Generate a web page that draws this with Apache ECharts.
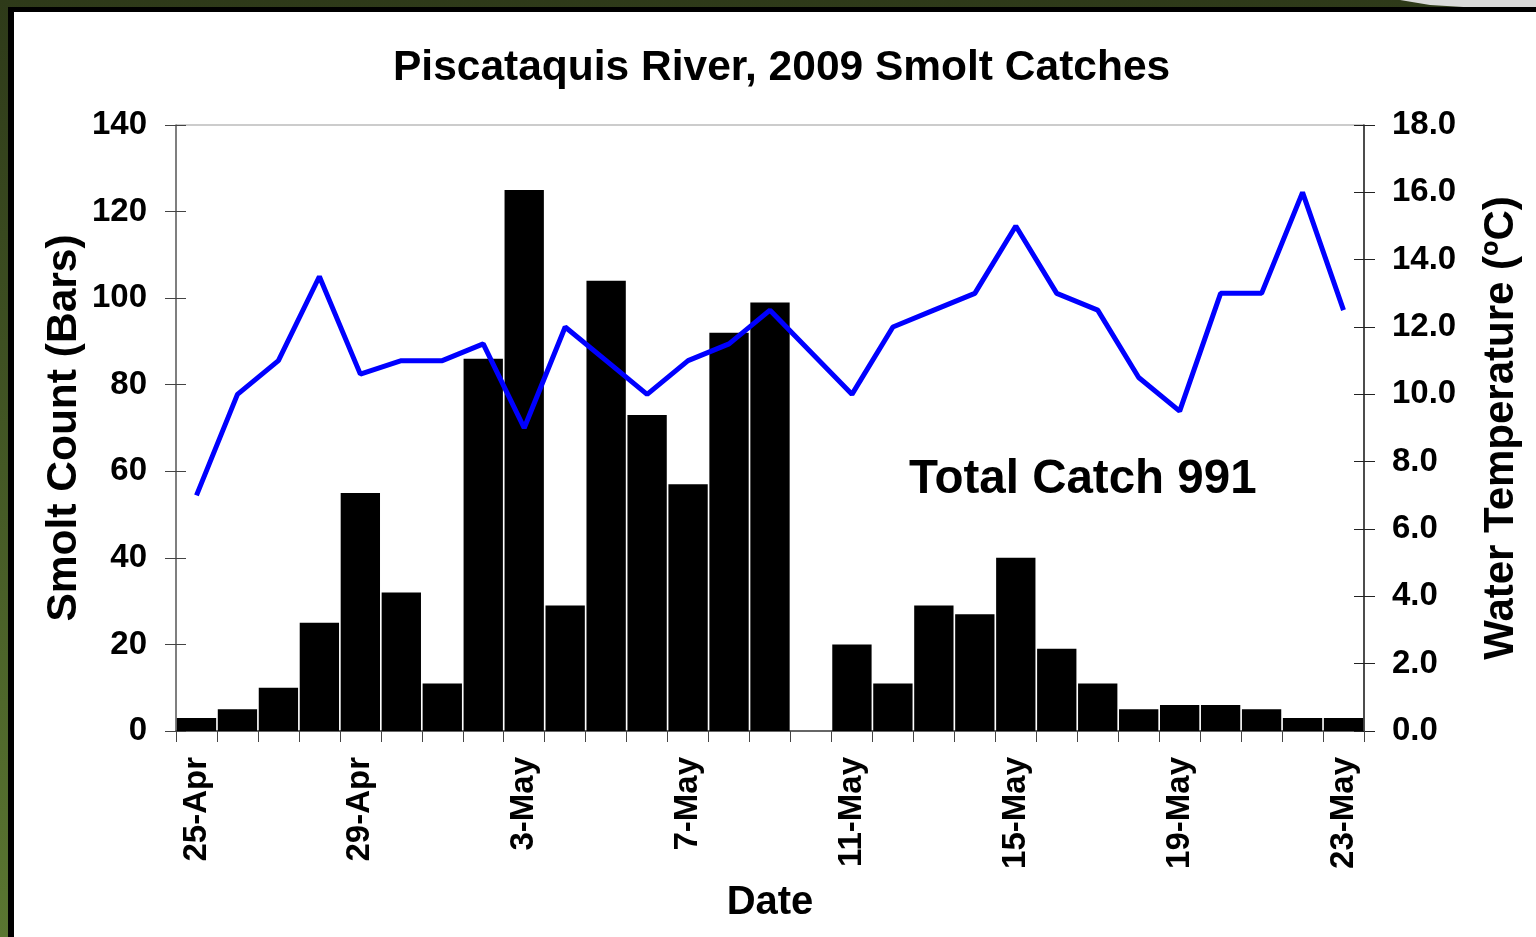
<!DOCTYPE html>
<html>
<head>
<meta charset="utf-8">
<title>Piscataquis River, 2009 Smolt Catches</title>
<script src="https://cdn.jsdelivr.net/npm/echarts@6/dist/echarts.min.js"></script>
<style>
    html, body { margin: 0; padding: 0; background: #2e3a19; }
    #main { width: 1536px; height: 937px; }
</style>
</head>
<body>
<div id="main"></div>
<script>
var dates = ['25-Apr', '26-Apr', '27-Apr', '28-Apr', '29-Apr', '30-Apr',
    '1-May', '2-May', '3-May', '4-May', '5-May', '6-May', '7-May', '8-May', '9-May', '10-May',
    '11-May', '12-May', '13-May', '14-May', '15-May', '16-May', '17-May', '18-May', '19-May',
    '20-May', '21-May', '22-May', '23-May'];
// daily smolt count (bars), 10-May had no catch
var smoltCount = [3, 5, 10, 25, 55, 32, 11, 86, 125, 29, 104, 73, 57, 92, 99, 0,
    20, 11, 29, 27, 40, 19, 11, 5, 6, 6, 5, 3, 3];
// water temperature (ºC), no reading on 10-May
var waterTemp = [7.0, 10.0, 11.0, 13.5, 10.6, 11.0, 11.0, 11.5, 9.0, 12.0, 11.0, 10.0, 11.0, 11.5, 12.5, null,
    10.0, 12.0, 12.5, 13.0, 15.0, 13.0, 12.5, 10.5, 9.5, 13.0, 13.0, 16.0, 12.5];
var totalCatch = 991;

var myChart = echarts.init(document.getElementById('main'));
var fontBold = {
    fontFamily: 'Liberation Sans, Arial, sans-serif',
    fontWeight: 'bold',
    color: '#000'
};

var option = {
    animation: false,
    backgroundColor: '#fff',
    textStyle: {
        fontFamily: 'Liberation Sans, Arial, sans-serif'
    },
    // slide frame round the chart
    graphic: [
        {
            type: 'rect', z: -10, silent: true,
            shape: { x: 0, y: 0, width: 1536, height: 937 },
            style: {
                fill: new echarts.graphic.LinearGradient(0, 0, 0, 1, [
                    { offset: 0, color: '#2e3a19' },
                    { offset: 1, color: '#5a7631' }
                ])
            }
        },
        {
            type: 'polygon', z: -9, silent: true,
            shape: { points: [[1400, 0], [1536, 0], [1536, 8], [1480, 8], [1430, 5]] },
            style: { fill: '#d9d9d9' }
        },
        {
            type: 'rect', z: -8, silent: true,
            shape: { x: 8, y: 7, width: 1528, height: 930 },
            style: { fill: '#000' }
        },
        {
            type: 'rect', z: -7, silent: true,
            shape: { x: 14, y: 12, width: 1522, height: 925 },
            style: { fill: '#fff' }
        },
        {
            type: 'text', z: 10,
            left: 909, top: 456,
            style: {
                text: 'Total Catch ' + totalCatch,
                fontSize: 47.5,
                fontWeight: 'bold',
                fontFamily: 'Liberation Sans, Arial, sans-serif',
                fill: '#000'
            }
        }
    ],
    title: {
        text: 'Piscataquis River, 2009 Smolt Catches',
        left: 388,
        top: 42,
        textStyle: {
            fontSize: 42.5,
            fontWeight: 'bold',
            fontFamily: 'Liberation Sans, Arial, sans-serif',
            color: '#000'
        }
    },
    grid: {
        left: 176,
        right: 172,
        top: 125,
        bottom: 206,
        show: true,
        borderColor: '#999',
        borderWidth: 1
    },
    xAxis: {
        type: 'category',
        data: dates,
        boundaryGap: true,
        name: 'Date',
        nameLocation: 'middle',
        nameGap: 152,
        nameTextStyle: Object.assign({ fontSize: 40 }, fontBold),
        axisLine: { lineStyle: { color: '#444', width: 1.5 } },
        axisTick: { show: true, interval: 0, length: 11, lineStyle: { color: '#444' } },
        axisLabel: Object.assign({ interval: 3, rotate: 90, fontSize: 33, margin: 26 }, fontBold),
        splitLine: { show: false }
    },
    yAxis: [
        {
            type: 'value',
            position: 'left',
            min: 0, max: 140, interval: 20,
            name: 'Smolt Count (Bars)',
            nameLocation: 'middle',
            nameGap: 90,
            nameMoveOverlap: false,
            nameTextStyle: Object.assign({ fontSize: 42.5 }, fontBold),
            axisLine: { show: true, lineStyle: { color: '#666', width: 1.5 } },
            axisTick: { show: true, length: 11, lineStyle: { color: '#444' } },
            axisLabel: Object.assign({ fontSize: 33, margin: 29 }, fontBold),
            splitLine: { show: false }
        },
        {
            type: 'value',
            position: 'right',
            min: 0, max: 18, interval: 2,
            name: 'Water Temperature (ºC)',
            nameLocation: 'middle',
            nameGap: 116,
            nameRotate: 90,
            nameTextStyle: Object.assign({ fontSize: 42 }, fontBold),
            axisLine: { show: true, lineStyle: { color: '#222', width: 1.5 } },
            axisTick: { show: true, length: 11, lineStyle: { color: '#222' } },
            axisLabel: Object.assign({
                fontSize: 33, margin: 28,
                formatter: function (v) { return v.toFixed(1); }
            }, fontBold),
            splitLine: { show: false }
        },
        // inner halves of the crossing ticks
        {
            type: 'value', position: 'left', min: 0, max: 140, interval: 20,
            axisLine: { show: false },
            axisTick: { show: true, inside: true, length: 10, lineStyle: { color: '#444' } },
            axisLabel: { show: false },
            splitLine: { show: false }
        },
        {
            type: 'value', position: 'right', min: 0, max: 18, interval: 2,
            axisLine: { show: false },
            axisTick: { show: true, inside: true, length: 10, lineStyle: { color: '#222' } },
            axisLabel: { show: false },
            splitLine: { show: false }
        }
    ],
    series: [
        {
            name: 'Smolt Count',
            type: 'bar',
            yAxisIndex: 0,
            data: smoltCount,
            barCategoryGap: '4%',
            itemStyle: { color: '#000' },
            z: 2
        },
        {
            name: 'Water Temperature',
            type: 'line',
            yAxisIndex: 1,
            data: waterTemp,
            connectNulls: true,
            showSymbol: false,
            symbol: 'none',
            lineStyle: { color: '#0000ff', width: 5 },
            z: 3
        }
    ]
};

myChart.setOption(option);
</script>
</body>
</html>
